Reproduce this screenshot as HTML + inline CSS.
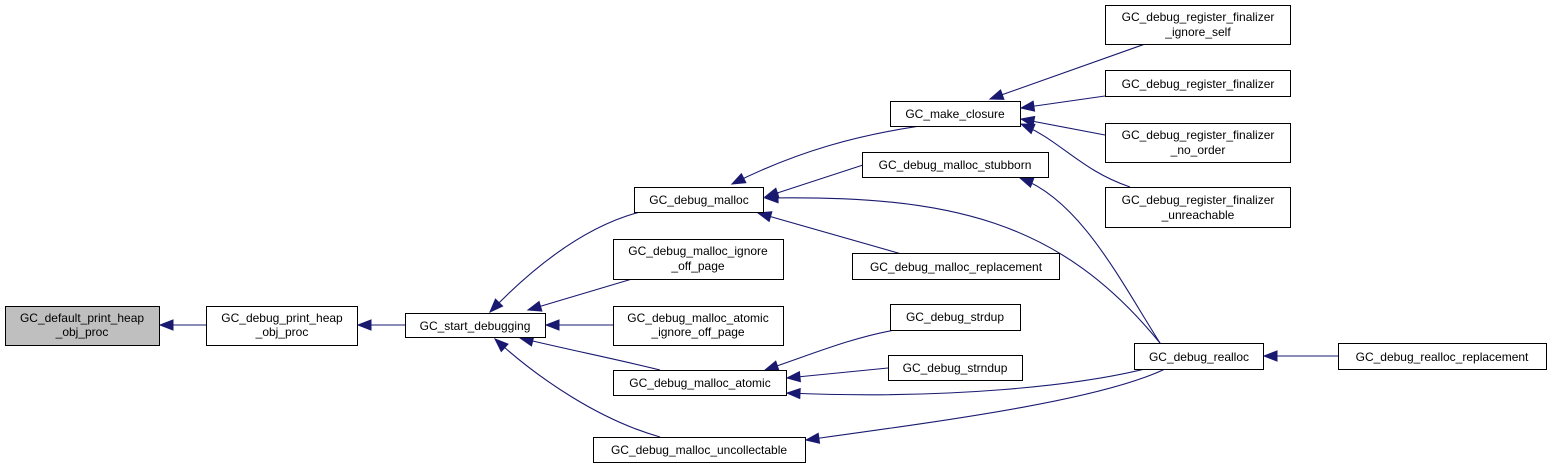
<!DOCTYPE html>
<html><head><meta charset="utf-8"><style>
html,body{margin:0;padding:0;background:#fff;}
svg text{font-family:"Liberation Sans",Arial,sans-serif;font-size:12px;fill:#000;text-anchor:middle;}
</style></head><body>
<svg width="1551" height="470" viewBox="0 0 1551 470" xmlns="http://www.w3.org/2000/svg">
<defs>
<marker id="a" markerWidth="14" markerHeight="11" refX="0" refY="5" orient="auto" markerUnits="userSpaceOnUse" overflow="visible">
<path d="M13,0 L0,5 L13,10 Z" fill="#191970" stroke="#191970"/>
</marker>
</defs>
<g fill="none" stroke="#191970" stroke-width="1.1">
<path d="M160,325 L206,325" marker-start="url(#a)"/>
<path d="M358,325 L405,325" marker-start="url(#a)"/>
<path d="M490,312 C540,260 590,225 640,212" marker-start="url(#a)"/>
<path d="M528,310 L632,279" marker-start="url(#a)"/>
<path d="M546,325 L613,325" marker-start="url(#a)"/>
<path d="M520,338 C570,350 620,360 660,370" marker-start="url(#a)"/>
<path d="M495,339 C540,380 600,420 660,437" marker-start="url(#a)"/>
<path d="M732,184 C800,150 860,135 920,126" marker-start="url(#a)"/>
<path d="M765,197 L863,165" marker-start="url(#a)"/>
<path d="M765,198 C950,195 1060,220 1160,343" marker-start="url(#a)"/>
<path d="M758,213 L905,255" marker-start="url(#a)"/>
<path d="M765,370 C810,355 850,338 895,330" marker-start="url(#a)"/>
<path d="M787,378 L888,368" marker-start="url(#a)"/>
<path d="M787,393 C950,400 1080,385 1145,369" marker-start="url(#a)"/>
<path d="M806,440 C950,420 1100,400 1165,369" marker-start="url(#a)"/>
<path d="M1020,178 C1080,200 1120,280 1160,343" marker-start="url(#a)"/>
<path d="M1264,356 L1338,356" marker-start="url(#a)"/>
<path d="M990,99 L1145,44" marker-start="url(#a)"/>
<path d="M1021,108 L1105,96" marker-start="url(#a)"/>
<path d="M1021,119 L1105,135" marker-start="url(#a)"/>
<path d="M1021,124 C1060,140 1080,170 1130,187" marker-start="url(#a)"/>
</g>
<g stroke="#000" stroke-width="1">
<rect x="5.5" y="306.5" width="154" height="39" fill="#bfbfbf"/>
<rect x="206.5" y="306.5" width="151" height="39" fill="#fff"/>
<rect x="405.5" y="313.5" width="140" height="24" fill="#fff"/>
<rect x="634.5" y="187.5" width="129" height="25" fill="#fff"/>
<rect x="613.5" y="239.5" width="170" height="40" fill="#fff"/>
<rect x="613.5" y="306.5" width="170" height="39" fill="#fff"/>
<rect x="613.5" y="370.5" width="173" height="25" fill="#fff"/>
<rect x="593.5" y="437.5" width="212" height="25" fill="#fff"/>
<rect x="890.5" y="101.5" width="130" height="25" fill="#fff"/>
<rect x="862.5" y="152.5" width="186" height="25" fill="#fff"/>
<rect x="852.5" y="253.5" width="207" height="26" fill="#fff"/>
<rect x="890.5" y="304.5" width="130" height="26" fill="#fff"/>
<rect x="888.5" y="355.5" width="134" height="25" fill="#fff"/>
<rect x="1134.5" y="343.5" width="129" height="26" fill="#fff"/>
<rect x="1338.5" y="343.5" width="208" height="26" fill="#fff"/>
<rect x="1105.5" y="5.5" width="185" height="39" fill="#fff"/>
<rect x="1105.5" y="70.5" width="185" height="26" fill="#fff"/>
<rect x="1105.5" y="123.5" width="185" height="39" fill="#fff"/>
<rect x="1105.5" y="187.5" width="185" height="40" fill="#fff"/>
</g>
<text x="82" y="322">GC_default_print_heap</text><text x="82" y="336">_obj_proc</text>
<text x="282" y="322">GC_debug_print_heap</text><text x="282" y="336">_obj_proc</text>
<text x="475" y="330">GC_start_debugging</text>
<text x="699" y="204">GC_debug_malloc</text>
<text x="698" y="255">GC_debug_malloc_ignore</text><text x="698" y="270">_off_page</text>
<text x="698" y="322">GC_debug_malloc_atomic</text><text x="698" y="336">_ignore_off_page</text>
<text x="700" y="387">GC_debug_malloc_atomic</text>
<text x="699" y="454">GC_debug_malloc_uncollectable</text>
<text x="955" y="118">GC_make_closure</text>
<text x="955" y="169">GC_debug_malloc_stubborn</text>
<text x="956" y="271">GC_debug_malloc_replacement</text>
<text x="955" y="321">GC_debug_strdup</text>
<text x="955" y="372">GC_debug_strndup</text>
<text x="1199" y="361">GC_debug_realloc</text>
<text x="1442" y="361">GC_debug_realloc_replacement</text>
<text x="1198" y="21">GC_debug_register_finalizer</text><text x="1198" y="36">_ignore_self</text>
<text x="1198" y="88">GC_debug_register_finalizer</text>
<text x="1198" y="139">GC_debug_register_finalizer</text><text x="1198" y="154">_no_order</text>
<text x="1198" y="204">GC_debug_register_finalizer</text><text x="1198" y="219">_unreachable</text>
</svg>
</body></html>
